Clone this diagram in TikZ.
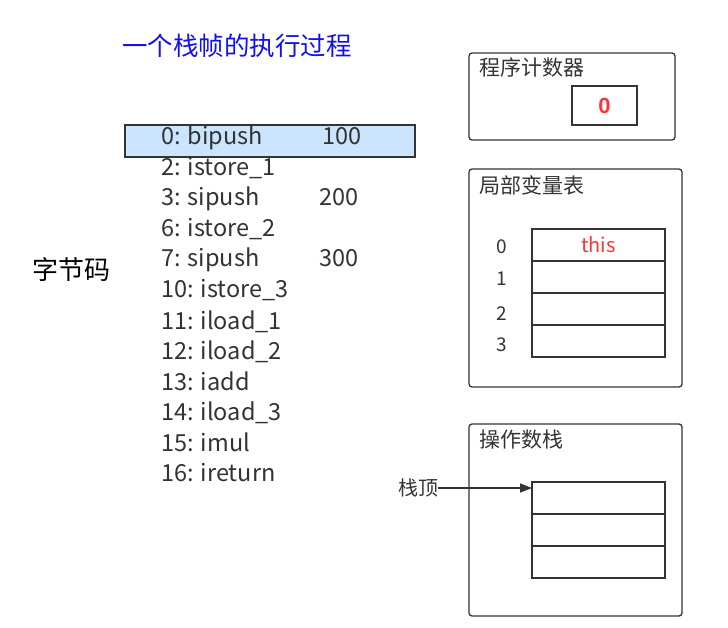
\documentclass[tikz,border=0pt]{standalone}
\usepackage{fontspec}
\setmainfont{Noto Sans CJK SC}
\newfontfamily\latb{Liberation Sans}
\usetikzlibrary{arrows.meta}
\definecolor{dk}{HTML}{333333}
\definecolor{hl}{HTML}{CCE5FF}
\definecolor{rd}{HTML}{FF3333}
\definecolor{tb}{HTML}{1010F0}
\tikzset{
  frame/.style={draw=dk, line width=1.3pt, rounded corners=3pt},
  cell/.style={draw=dk, line width=1.1pt, minimum width=133pt, minimum height=32pt, inner sep=0pt, outer sep=0pt},
  code/.style={anchor=base west, inner sep=0pt, text=dk, font=\fontsize{23.5}{23.5}\selectfont},
  boxtitle/.style={anchor=west, inner sep=0pt, text=dk, font=\fontsize{21}{21}\selectfont},
  idx/.style={inner sep=0pt, text=dk, font=\fontsize{19}{19}\selectfont},
}
\begin{document}
\begin{tikzpicture}[x=1pt,y=-1pt]
\useasboundingbox (0,0) rectangle (728,628);
% title
\node[anchor=west, inner sep=0pt, text=tb, font=\fontsize{25.5}{25.5}\selectfont] (title) at (122,46) {一个栈帧的执行过程};
% highlight
\node[draw=dk, fill=hl, line width=1.3pt, minimum width=290pt, minimum height=32pt, inner sep=0pt] (hl) at (270,141) {};
% code
\node[code] (c0) at (161,145) {0: bipush};
\node[code] (n0) at (322,145) {100};
\node[code] (c1) at (161,176) {2: istore\_1};
\node[code] (c2) at (161,206) {3: sipush};
\node[code] (n2) at (319,206) {200};
\node[code] (c3) at (161,237) {6: istore\_2};
\node[code] (c4) at (161,267) {7: sipush};
\node[code] (n4) at (319,267) {300};
\node[code] (c5) at (161,298) {10: istore\_3};
\node[code] (c6) at (161,329) {11: iload\_1};
\node[code] (c7) at (161,359) {12: iload\_2};
\node[code] (c8) at (161,390) {13: iadd};
\node[code] (c9) at (161,420) {14: iload\_3};
\node[code] (c10) at (161,451) {15: imul};
\node[code] (c11) at (161,481) {16: ireturn};
\node[anchor=west, inner sep=0pt, font=\fontsize{26}{26}\selectfont] (bc) at (32,270) {字节码};
% program counter
\draw[frame] (469,53) rectangle (675,140);
\node[boxtitle] (pct) at (479,68) {程序计数器};
\node[draw=dk, line width=1.3pt, minimum width=65pt, minimum height=39pt, inner sep=0pt, text=rd, font=\latb\bfseries\fontsize{22}{22}\selectfont] (pcv) at (604.5,105.5) {0};
% local variable table
\draw[frame] (469,169) rectangle (682,387);
\node[boxtitle] (lvt) at (479,185) {局部变量表};
\node[cell, anchor=north west, text=rd, font=\fontsize{20}{20}\selectfont] (lv0) at (532,229) {this};
\node[cell, anchor=north] (lv1) at (lv0.south) {};
\node[cell, anchor=north] (lv2) at (lv1.south) {};
\node[cell, anchor=north] (lv3) at (lv2.south) {};
\node[idx] (i0) at (502,247) {0};
\node[idx] (i1) at (502,279) {1};
\node[idx] (i2) at (502,314) {2};
\node[idx] (i3) at (502,345) {3};
% operand stack
\draw[frame] (469,424) rectangle (682,616);
\node[boxtitle] (ost) at (479,440) {操作数栈};
\node[cell, anchor=north west] (os0) at (532,482) {};
\node[cell, anchor=north] (os1) at (os0.south) {};
\node[cell, anchor=north] (os2) at (os1.south) {};
\node[anchor=west, inner sep=0pt, text=dk, font=\fontsize{20}{20}\selectfont] (top) at (398,488) {栈顶};
\draw[dk, line width=1.1pt, -{Triangle[length=12pt,width=9pt]}] (top.east) -- (top.east -| os0.west);
\end{tikzpicture}
\end{document}
